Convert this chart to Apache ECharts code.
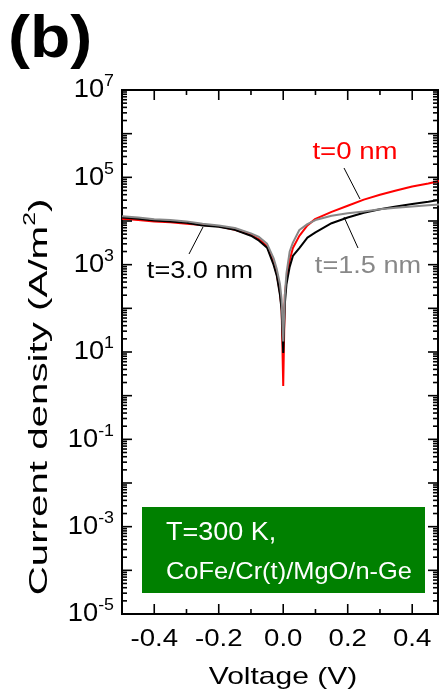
<!DOCTYPE html>
<html>
<head>
<meta charset="utf-8">
<script src="https://cdn.jsdelivr.net/npm/echarts@6/dist/echarts.min.js"></script>
<style>
  html, body { margin: 0; padding: 0; background: #fff; }
  #chart { width: 440px; height: 695px; }
</style>
</head>
<body>
<div id="chart"></div>
<script>
// Bias voltage (V)
const voltage = [-0.5, -0.45, -0.4, -0.35, -0.3, -0.25, -0.2, -0.15, -0.1, -0.075, -0.05, -0.03, -0.02, -0.01, -0.005, 0,
                 0.005, 0.01, 0.02, 0.03, 0.05, 0.075, 0.1, 0.15, 0.2, 0.25, 0.3, 0.35, 0.4, 0.45, 0.5];

// |J| in A/m^2, CoFe/Cr(t)/MgO/n-Ge at 300 K
const jCr0nm = [11200, 10500, 9800, 9300, 8700, 8100, 7600, 6300, 4800, 3800, 2630, 1120, 600, 224, 100, 1.66,
                200, 447, 1260, 2400, 4570, 7940, 11200, 16200, 22400, 30900, 39800, 50100, 61700, 72400, 87100];
const jCr30nm = [12000, 11200, 10200, 9800, 9100, 7900, 7400, 6300, 4600, 3550, 2450, 1000, 560, 200, 89, 9.5,
                 126, 355, 890, 1580, 2400, 4170, 5500, 8900, 12000, 15500, 18600, 21400, 24500, 27500, 31600];
const jCr15nm = [12900, 12000, 11000, 10500, 9800, 8700, 7900, 6900, 5200, 4300, 3000, 1410, 790, 355, 160, 17.4,
                 200, 630, 2000, 3200, 6200, 8500, 10500, 13200, 15100, 16600, 18600, 20000, 21400, 22900, 24500];

// Axis ticks and labels
const xTickValues = [-0.4, -0.2, 0, 0.2, 0.4];
const xTickLabels = ['-0.4', '-0.2', '0.0', '0.2', '0.4'];
const xMinorTicks = [-0.3, -0.1, 0.1, 0.3];
const yDecades = [-5, -4, -3, -2, -1, 0, 1, 2, 3, 4, 5, 6, 7];
const yLabelExponents = [-5, -3, -1, 1, 3, 5, 7];
const minorMultipliers = [2, 3, 4, 5, 6, 7, 8, 9];

const FONT = '"Liberation Sans", Arial, Helvetica, sans-serif';

const pairs = (ys) => voltage.map((v, i) => [v, ys[i]]);

// Inward ticks on all four sides plus tick labels, placed through the axis scales
function renderFrame(params, api) {
  const cs = params.coordSys;
  const L = cs.x, R = cs.x + cs.width, T = cs.y, B = cs.y + cs.height;
  const kids = [];
  const tick = (x1, y1, x2, y2) => kids.push({
    type: 'line', shape: { x1, y1, x2, y2 }, style: { stroke: '#000', lineWidth: 1.6 }
  });
  xTickValues.forEach(v => {
    const x = api.coord([v, 1])[0];
    tick(x, B, x, B - 10); tick(x, T, x, T + 10);
  });
  xMinorTicks.forEach(v => {
    const x = api.coord([v, 1])[0];
    tick(x, B, x, B - 5); tick(x, T, x, T + 5);
  });
  yDecades.forEach(e => {
    const y = api.coord([0, Math.pow(10, e)])[1];
    tick(L, y, L + 10, y); tick(R, y, R - 10, y);
    if (e < 7) {
      minorMultipliers.forEach(m => {
        const ym = api.coord([0, m * Math.pow(10, e)])[1];
        tick(L, ym, L + 5, ym); tick(R, ym, R - 5, ym);
      });
    }
  });
  xTickValues.forEach((v, i) => {
    kids.push({
      type: 'text', x: api.coord([v, 1])[0], y: B + 26, scaleX: 1.2,
      style: { text: xTickLabels[i], fontSize: 23, fontFamily: FONT, fill: '#000',
               align: 'center', verticalAlign: 'middle', textAlign: 'center', textVerticalAlign: 'middle' }
    });
  });
  yLabelExponents.forEach(e => {
    kids.push({
      type: 'text', x: L - 8, y: api.coord([0, Math.pow(10, e)])[1], scaleX: 1.05,
      style: {
        text: '{b|10}{s|' + e + '}', fill: '#000',
        align: 'right', verticalAlign: 'middle', textAlign: 'right', textVerticalAlign: 'middle',
        rich: {
          b: { fontSize: 26, lineHeight: 34, fontFamily: FONT, fill: '#000' },
          s: { fontSize: 17, lineHeight: 17, fontFamily: FONT, fill: '#000', verticalAlign: 'top' }
        }
      }
    });
  });
  return { type: 'group', children: kids };
}

const chart = echarts.init(document.getElementById('chart'), null, { renderer: 'canvas' });

chart.setOption({
  animation: false,
  backgroundColor: '#fff',
  grid: { left: 122, right: 2, top: 90, bottom: 81, show: true, borderColor: '#000', borderWidth: 2,
          backgroundColor: 'transparent' },
  xAxis: {
    type: 'value', min: -0.5, max: 0.48, interval: 0.1,
    axisLine: { show: false }, axisTick: { show: false }, axisLabel: { show: false }, splitLine: { show: false }
  },
  yAxis: {
    type: 'log', logBase: 10, min: 1e-5, max: 1e7, splitNumber: 12,
    axisLine: { show: false }, axisTick: { show: false }, axisLabel: { show: false }, splitLine: { show: false }
  },
  series: [
    { name: 't=0 nm', type: 'line', data: pairs(jCr0nm), showSymbol: false, clip: true,
      lineStyle: { color: '#ff0000', width: 2 }, itemStyle: { color: '#ff0000' }, z: 2 },
    { name: 't=3.0 nm', type: 'line', data: pairs(jCr30nm), showSymbol: false, clip: true,
      lineStyle: { color: '#000000', width: 2 }, itemStyle: { color: '#000000' }, z: 3 },
    { name: 't=1.5 nm', type: 'line', data: pairs(jCr15nm), showSymbol: false, clip: true,
      lineStyle: { color: '#888888', width: 2 }, itemStyle: { color: '#888888' }, z: 4 },
    { type: 'custom', renderItem: renderFrame, data: [[0, 1]], clip: false, silent: true, z: 6 }
  ],
  graphic: [
    { type: 'text', x: 8, y: 40, scaleX: 1.1,
      style: { text: '(b)', fontSize: 60, fontWeight: 'bold', fontFamily: FONT, fill: '#000',
               align: 'left', verticalAlign: 'middle', textAlign: 'left', textVerticalAlign: 'middle' } },
    { type: 'text', x: 40, y: 397, rotation: Math.PI / 2, scaleX: 1.55,
      style: {
        text: '{a|Current density (A/m}{s|2}{a|)}', fill: '#000',
        align: 'center', verticalAlign: 'middle', textAlign: 'center', textVerticalAlign: 'middle',
        rich: {
          a: { fontSize: 26, lineHeight: 34, fontFamily: FONT, fill: '#000' },
          s: { fontSize: 16, lineHeight: 16, fontFamily: FONT, fill: '#000', verticalAlign: 'top' }
        }
      } },
    { type: 'text', x: 283, y: 677, scaleX: 1.25,
      style: { text: 'Voltage (V)', fontSize: 24, fontFamily: FONT, fill: '#000',
               align: 'center', verticalAlign: 'middle', textAlign: 'center', textVerticalAlign: 'middle' } },

    // curve annotations
    { type: 'text', x: 355, y: 152, scaleX: 1.15,
      style: { text: 't=0 nm', fontSize: 24, fontFamily: FONT, fill: '#ff0000',
               align: 'center', verticalAlign: 'middle', textAlign: 'center', textVerticalAlign: 'middle' } },
    { type: 'line', shape: { x1: 344, y1: 168, x2: 360, y2: 199 }, style: { stroke: '#000', lineWidth: 1 } },
    { type: 'text', x: 368, y: 266, scaleX: 1.13,
      style: { text: 't=1.5 nm', fontSize: 24, fontFamily: FONT, fill: '#888888',
               align: 'center', verticalAlign: 'middle', textAlign: 'center', textVerticalAlign: 'middle' } },
    { type: 'line', shape: { x1: 344, y1: 217, x2: 358, y2: 248 }, style: { stroke: '#000', lineWidth: 1 } },
    { type: 'text', x: 200, y: 271, scaleX: 1.13,
      style: { text: 't=3.0 nm', fontSize: 24, fontFamily: FONT, fill: '#000',
               align: 'center', verticalAlign: 'middle', textAlign: 'center', textVerticalAlign: 'middle' } },
    { type: 'line', shape: { x1: 203, y1: 227, x2: 189, y2: 254 }, style: { stroke: '#000', lineWidth: 1 } },

    // sample/condition box
    { type: 'rect', shape: { x: 142, y: 507, width: 283, height: 86 }, style: { fill: '#008000' } },
    { type: 'text', x: 166, y: 533, scaleX: 1.08,
      style: { text: 'T=300 K,', fontSize: 25, fontFamily: FONT, fill: '#fff',
               align: 'left', verticalAlign: 'middle', textAlign: 'left', textVerticalAlign: 'middle' } },
    { type: 'text', x: 166, y: 572, scaleX: 1.06,
      style: { text: 'CoFe/Cr(t)/MgO/n-Ge', fontSize: 24, fontFamily: FONT, fill: '#fff',
               align: 'left', verticalAlign: 'middle', textAlign: 'left', textVerticalAlign: 'middle' } }
  ]
});
</script>
</body>
</html>
